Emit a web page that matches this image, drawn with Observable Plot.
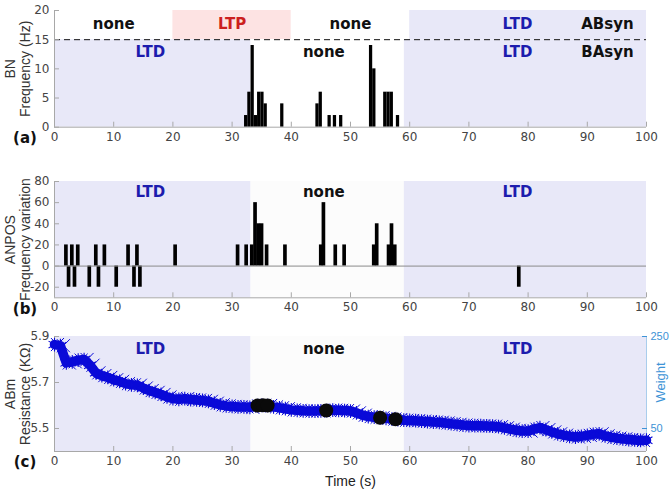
<!DOCTYPE html>
<html><head><meta charset="utf-8">
<script src="https://cdn.jsdelivr.net/npm/d3@7"></script>
<script src="https://cdn.jsdelivr.net/npm/@observablehq/plot@0.6"></script>
<style>
body{margin:0;background:#fff;}
#wrap{position:relative;width:669px;height:489px;overflow:hidden;background:#fff;}
#wrap svg{position:absolute;left:0;overflow:visible;}
</style></head><body><div id="wrap"></div>
<script>
// ---------- data ----------
const timeTicks = [0,10,20,30,40,50,60,70,80,90,100];
const bnTicks = [0,5,10,15,20];
const anposTicks = [-20,0,20,40,60,80];
const resTicks = [5.5,5.7,5.9];
const weightTicks = [50,250];

const abStates = ["none","LTP","none","LTD"];
const abStart  = [0,20,40,60];
const abEnd    = [20,40,60,100];
const baStates = ["LTD","none","LTD"];
const baStart  = [0,33.2,59.1];
const baEnd    = [33.2,59.1,100];

const bnWidth = 0.55;
const bnStart = [32.1,32.65,33.2,33.75,34.3,34.85,35.4,38.2,44.15,44.7,46.2,47.1,48.15,53.2,53.75,55.6,56.15,56.7,57.75];
const bnFreq  = [2,6,14,2,6,6,4,4,4,6,2,2,2,14,10,6,6,6,2];

const anposWidth = 0.62;
const anposStart = [1.7,2.15,2.7,3.15,3.7,5.65,6.75,7.2,8.2,10.2,12.2,13.2,13.7,14.2,20.15,30.7,32.15,33.1,33.65,34.2,34.75,35.6,38.7,44.75,45.2,47.2,48.7,53.7,54.2,56.2,56.7,57.25,78.2];
const anposVar   = [20,-20,20,-20,20,-20,20,-20,20,-20,20,-20,20,-20,20,20,20,20,60,40,40,20,20,20,60,20,20,20,40,20,40,20,-20];

const timeSec = d3.range(0,101);
const resistance = [5.865,5.86,5.785,5.79,5.797,5.8,5.775,5.742,5.73,5.722,5.712,5.705,5.695,5.69,5.688,5.676,5.665,5.657,5.648,5.637,
 5.63,5.627,5.63,5.626,5.624,5.622,5.618,5.61,5.603,5.598,5.596,5.594,5.594,5.592,5.598,5.601,5.6,5.594,5.59,5.586,
 5.581,5.579,5.577,5.576,5.576,5.577,5.578,5.58,5.579,5.578,5.576,5.568,5.558,5.552,5.549,5.547,5.544,5.541,5.539,5.536,
 5.535,5.534,5.532,5.53,5.528,5.527,5.524,5.521,5.518,5.515,5.513,5.512,5.512,5.511,5.51,5.508,5.503,5.497,5.492,5.489,
 5.489,5.497,5.504,5.495,5.485,5.477,5.471,5.466,5.463,5.466,5.47,5.475,5.477,5.468,5.462,5.458,5.455,5.452,5.45,5.448,5.449];

const blackTime = [34.3,35.2,36.0,45.9,55.0,57.6];
const blackRes  = [5.6,5.601,5.6,5.578,5.547,5.54];

// ---------- styles ----------
const W = 669;
const AXIS_GRAY = "#a8a8a8";
const TICK_TEXT = "#444444";
const WBLUE = "#3d93d6";
const CURVE = "#0a0ad8";
const stateFill = {LTD:"#e8e8f8", LTP:"#fde3e3", none:"#fcfcfc"};
const stateColor = {LTD:"#1c1cae", LTP:"#cc1f1f", none:"#111111"};
const w2r = w => 5.4 + w * 0.5 / 250;

function regions(start, end, states, y1, y2) {
  return states.map((s,i) => ({x1:start[i], x2:end[i], y1, y2, s}));
}
function xAxes() {
  return [
    Plot.axisX(timeTicks, {tickSize:-5, tickFormat:() => "", stroke:AXIS_GRAY, label:null}),
    Plot.axisX(timeTicks, {tickSize:0, tickPadding:5, fill:TICK_TEXT, fontSize:12, fontFamily:"DejaVu Sans", label:null})
  ];
}
function yAxes(ticks, fmt) {
  return [
    Plot.axisY(ticks, {tickSize:-5, tickFormat:() => "", stroke:AXIS_GRAY, label:null}),
    Plot.axisY(ticks, {tickSize:0, tickPadding:5, fill:TICK_TEXT, fontSize:12, fontFamily:"DejaVu Sans", label:null, tickFormat: fmt || (d => String(d))})
  ];
}
function stateLabels(labels, xs, dy) {
  return Plot.text(labels.map((s,i) => ({s, x:xs[i]})), {
    x:"x", text:"s", frameAnchor:"top", dy, textAnchor:"middle", lineAnchor:"middle",
    fontWeight:"bold", fontSize:15, fontFamily:"DejaVu Sans",
    fill: d => stateColor[d.s] || "#111111"
  });
}
function yLabel(txt) {
  return Plot.text([txt], {text:d => d, frameAnchor:"left", dx:-36.5, rotate:-90, textAnchor:"middle", lineAnchor:"middle",
    lineHeight:1.05, fontSize:14, fontFamily:"Liberation Sans", fill:"#333"});
}
function panelTag(txt, dy) {
  return Plot.text([txt], {text:d => d, frameAnchor:"bottom-left", dx:-29.5, dy, textAnchor:"middle", lineAnchor:"middle",
    fontWeight:"bold", fontSize:15, fontFamily:"DejaVu Sans", fill:"#111"});
}
const baseStyle = {fontFamily:"DejaVu Sans", fontSize:"12px", background:"transparent", overflow:"visible"};
const rectOpts = fillFn => ({x1:"x1", x2:"x2", y1:"y1", y2:"y2", fill:fillFn});

// ---------- panel (a) ----------
const bnBars = bnStart.map((t,i) => ({t, v:bnFreq[i]}));
const pa = Plot.plot({
  width:W, height:150, marginTop:10, marginBottom:23.3, marginLeft:54, marginRight:23,
  x:{domain:[0,100]}, y:{domain:[0,20]}, style:baseStyle,
  marks:[
    Plot.rect(regions(abStart,abEnd,abStates,15,20), rectOpts(d => d.s === "none" ? "#ffffff" : stateFill[d.s])),
    Plot.rect(regions(baStart,baEnd,baStates,0,15), rectOpts(d => d.s === "none" ? "#ffffff" : stateFill[d.s])),
    Plot.rect(bnBars, {x1:"t", x2:d => d.t + bnWidth, y1:() => 0, y2:"v", fill:"#000"}),
    Plot.ruleY([15], {stroke:"#111", strokeDasharray:"6,4"}),
    Plot.ruleY([0], {stroke:AXIS_GRAY}),
    Plot.ruleX([0], {stroke:AXIS_GRAY}),
    ...xAxes(), ...yAxes(bnTicks),
    stateLabels(["none","LTP","none","LTD","ABsyn"], [10,30,50,78.2,93.4], 14),
    stateLabels(["LTD","none","LTD","BAsyn"], [16.2,45.5,78.2,93.4], 41.5),
    yLabel("BN\nFrequency (Hz)"),
    panelTag("(a)", 11)
  ]
});
pa.style.top = "0px";

// ---------- panel (b) ----------
const anBars = anposStart.map((t,i) => ({t, v:anposVar[i]}));
const pb = Plot.plot({
  width:W, height:162, marginTop:21, marginBottom:24.7, marginLeft:54, marginRight:23,
  x:{domain:[0,100]}, y:{domain:[-30,80]}, style:baseStyle,
  marks:[
    Plot.rect(regions(baStart,baEnd,baStates,-30,80), rectOpts(d => stateFill[d.s])),
    Plot.rect(anBars, {x1:"t", x2:d => d.t + anposWidth, y1:() => 0, y2:"v", fill:"#000"}),
    Plot.ruleY([0], {stroke:"#8a8a8a"}),
    Plot.ruleY([-30], {stroke:AXIS_GRAY}),
    Plot.ruleX([0], {stroke:AXIS_GRAY}),
    ...xAxes(), ...yAxes(anposTicks),
    stateLabels(["LTD","none","LTD"], [16.2,45.5,78.2], 11),
    yLabel("ANPOS\nFrequency variation"),
    panelTag("(b)", 11)
  ]
});
pb.style.top = "160px";

// ---------- panel (c) ----------
const curve = timeSec.map((t,i) => ({t, r:resistance[i]}));
const curveMid = curve.slice(0, -1);
const blacks = blackTime.map((t,i) => ({t, r:blackRes[i]}));
const pc = Plot.plot({
  width:W, height:169, marginTop:16, marginBottom:38, marginLeft:54, marginRight:23,
  x:{domain:[0,100]}, y:{domain:[5.4,5.9]}, style:baseStyle,
  marks:[
    Plot.rect(regions(baStart,baEnd,baStates,5.4,5.9), rectOpts(d => stateFill[d.s])),
    Plot.ruleY([5.4], {stroke:AXIS_GRAY}),
    Plot.ruleX([0], {stroke:AXIS_GRAY}),
    Plot.ruleX([100], {stroke:"#a9cdec"}),
    Plot.line(curve, {x:"t", y:"r", stroke:CURVE, strokeWidth:9.5, strokeLinejoin:"round"}),
    Plot.dot(curve, {x:"t", y:"r", symbol:"asterisk", r:6.5, stroke:CURVE, strokeWidth:1.1}),
    Plot.dot(curveMid, {x:d => d.t + 0.5, y:"r", symbol:"times", r:6, stroke:CURVE, strokeWidth:1}),
    Plot.dot(blacks, {x:"t", y:"r", r:7, fill:"#0a0a0a"}),
    ...xAxes(), ...yAxes(resTicks, d => d.toFixed(1)),
    Plot.axisY(weightTicks.map(w2r), {anchor:"right", tickSize:-5, tickFormat:() => "", stroke:WBLUE, label:null}),
    Plot.axisY(weightTicks.map(w2r), {anchor:"right", tickSize:0, tickPadding:4, fill:WBLUE, fontSize:11, fontFamily:"Liberation Sans", label:null,
      tickFormat: d => String(Math.round((d - 5.4) * 500))}),
    Plot.text(["Weight"], {text:d => d, frameAnchor:"right", dx:14, dy:-11.5, rotate:-90, textAnchor:"middle", lineAnchor:"middle",
      fontSize:13, fontFamily:"Liberation Sans", fill:WBLUE}),
    Plot.text(["Time (s)"], {text:d => d, frameAnchor:"bottom", dy:30, textAnchor:"middle", lineAnchor:"middle",
      fontSize:14, fontFamily:"Liberation Sans", fill:"#222"}),
    stateLabels(["LTD","none","LTD"], [16.2,45.5,78.2], 12.3),
    yLabel("ABm\nResistance (K\u03A9)"),
    panelTag("(c)", 11)
  ]
});
pc.style.top = "320px";

const wrap = document.getElementById("wrap");
wrap.append(pa, pb, pc);
</script></body></html>
